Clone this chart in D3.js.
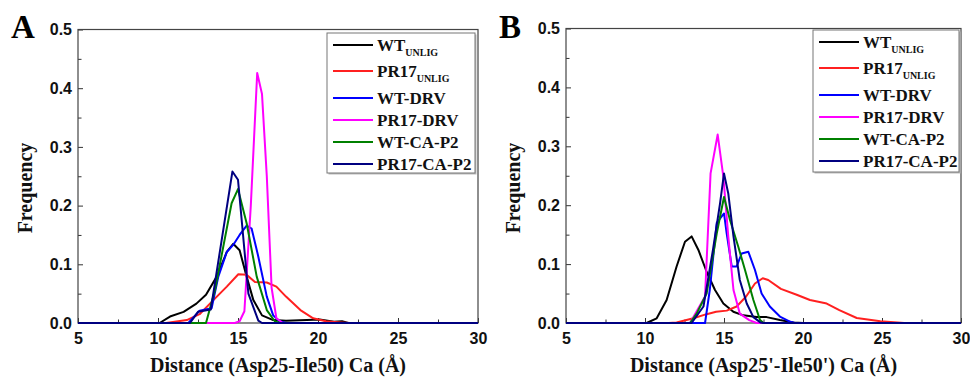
<!DOCTYPE html>
<html>
<head>
<meta charset="utf-8">
<script src="https://cdn.jsdelivr.net/npm/d3@7"></script>
<style>
  body { margin: 0; background: #fff; }
  svg { display: block; }
  .tick text { font-family: "Liberation Sans", Arial, sans-serif; font-weight: bold; font-size: 16px; }
</style>
</head>
<body>
<div class="canva"></div>
<script>
// legend names + colours
const seriesNames = ["WT", "PR17", "WT-DRV", "PR17-DRV", "WT-CA-P2", "PR17-CA-P2"];
const seriesSubs = ["UNLIG", "UNLIG", "", "", "", ""];
const seriesColors = ["#000000", "#ff2020", "#0000ff", "#ff00ff", "#008000", "#000080"];

const xTicks = [5, 10, 15, 20, 25, 30];
const yTicks = [0.0, 0.1, 0.2, 0.3, 0.4, 0.5];
const xMinor = [7.5, 12.5, 17.5, 22.5, 27.5];
const yMinor = [0.05, 0.15, 0.25, 0.35, 0.45];

// panel A : Asp25-Ile50 distance, [distance, frequency]
const aWtUnlig = [[5,0],[10.1,0],[10.75,0.011],[11.6,0.019],[12.4,0.033],[13.0,0.048],[13.67,0.079],[14.3,0.121],[14.7,0.135],[15.1,0.124],[15.54,0.079],[15.96,0.039],[16.5,0.013],[17.2,0.005],[18.0,0.004],[19.3,0.005],[20.1,0.006],[21.0,0.002],[21.5,0.003],[21.9,0],[30,0]];
const aPr17Unlig = [[5,0],[10.5,0],[11.8,0.005],[12.6,0.015],[13.46,0.039],[14.3,0.062],[15.02,0.083],[15.54,0.082],[16.06,0.07],[16.8,0.069],[17.4,0.062],[18.0,0.045],[18.9,0.022],[19.7,0.008],[20.5,0.003],[21.4,0.001],[22.0,0],[30,0]];
const aWtDrv = [[5,0],[11.9,0],[12.6,0.021],[13.35,0.025],[13.77,0.079],[14.3,0.121],[14.7,0.133],[15.1,0.15],[15.54,0.166],[15.85,0.161],[16.27,0.113],[16.8,0.045],[17.2,0.013],[17.6,0.003],[18.0,0],[30,0]];
const aPr17Drv = [[5,0],[14.8,0],[15.1,0.003],[15.4,0.02],[15.8,0.2],[16.2,0.426],[16.5,0.39],[16.8,0.25],[17.1,0.06],[17.4,0.008],[17.8,0],[30,0]];
const aWtCaP2 = [[5,0],[13.0,0],[13.56,0.056],[14.6,0.204],[15.0,0.228],[15.54,0.17],[16.17,0.079],[16.8,0.022],[17.3,0.003],[17.6,0],[30,0]];
const aPr17CaP2 = [[5,0],[12.0,0],[12.5,0.019],[13.3,0.023],[13.8,0.11],[14.65,0.258],[15.0,0.244],[15.65,0.05],[16.27,0.004],[16.5,0],[30,0]];

// panel B : Asp25'-Ile50' distance
const bWtUnlig = [[5,0],[10.1,0],[10.74,0.008],[11.37,0.039],[12.0,0.096],[12.53,0.138],[12.95,0.147],[13.38,0.124],[13.9,0.087],[14.43,0.056],[14.96,0.033],[15.59,0.019],[16.22,0.013],[17.07,0.01],[17.7,0.01],[18.54,0.005],[19.4,0.001],[20.0,0],[30,0]];
const bPr17Unlig = [[5,0],[11.5,0],[12.0,0.001],[13.06,0.008],[13.9,0.015],[14.5,0.019],[15.17,0.021],[15.8,0.028],[16.4,0.045],[16.96,0.067],[17.45,0.076],[17.8,0.073],[18.6,0.058],[19.6,0.048],[20.44,0.039],[21.5,0.033],[22.3,0.022],[23.4,0.0085],[24.9,0.003],[26.4,0],[30,0]];
const bWtDrv = [[5,0],[13.8,0],[14.1,0.056],[14.54,0.17],[15.0,0.186],[15.17,0.152],[15.49,0.096],[15.8,0.096],[16.12,0.118],[16.54,0.121],[16.96,0.09],[17.38,0.05],[17.9,0.028],[18.54,0.011],[19.2,0.002],[19.5,0],[30,0]];
const bPr17Drv = [[5,0],[12.85,0],[13.8,0.045],[14.15,0.254],[14.6,0.32],[14.96,0.248],[15.27,0.147],[15.6,0.056],[16.0,0.016],[16.6,0.005],[17.07,0],[30,0]];
const bWtCaP2 = [[5,0],[12.85,0],[13.27,0.016],[13.9,0.05],[14.54,0.152],[15.0,0.214],[15.38,0.175],[15.9,0.13],[16.33,0.09],[16.86,0.039],[17.28,0.005],[17.5,0],[30,0]];
const bPr17CaP2 = [[5,0],[12.95,0],[13.7,0.028],[14.3,0.124],[14.75,0.203],[15.0,0.254],[15.27,0.22],[15.6,0.147],[16.0,0.073],[16.44,0.033],[16.86,0.01],[17.3,0.001],[17.5,0],[30,0]];

const panels = [
  { letter: "A", series: [aWtUnlig, aPr17Unlig, aWtDrv, aPr17Drv, aWtCaP2, aPr17CaP2],
    xLabel: "Distance (Asp25-Ile50) Ca (Å)",
    box: { l: 78, r: 478, t: 29.5, b: 323 },
    legend: { x: 327, y: 33, w: 148, h: 140 } },
  { letter: "B", series: [bWtUnlig, bPr17Unlig, bWtDrv, bPr17Drv, bWtCaP2, bPr17CaP2],
    xLabel: "Distance (Asp25'-Ile50') Ca (Å)",
    box: { l: 566, r: 961, t: 28.5, b: 323 },
    legend: { x: 813, y: 30, w: 146, h: 142 } }
];

const legendRows = [12, 38, 65, 87, 109, 131];
const serif = "'Liberation Serif', 'Times New Roman', serif";

const svg = d3.select('.canva').append('svg')
    .attr('width', 970)
    .attr('height', 379);

svg.append('rect').attr('width', 970).attr('height', 379).attr('fill', '#fff');

panels.forEach(p => {
  const bx = p.box;
  const x = d3.scaleLinear().domain([5, 30]).range([bx.l, bx.r]);
  const y = d3.scaleLinear().domain([0, 0.5]).range([bx.b, bx.t]);
  const g = svg.append('g');

  // inner ticks, major then minor
  [[xTicks, -5], [xMinor, -3.5]].forEach(([vals, len]) => {
    g.append('g')
      .attr('transform', `translate(0,${bx.b})`)
      .call(d3.axisBottom(x).tickValues(vals).tickSize(len).tickFormat(''))
      .call(a => a.select('.domain').remove())
      .selectAll('line').attr('stroke', '#333').attr('stroke-width', 1);
  });
  [[yTicks, -5], [yMinor, -3.5]].forEach(([vals, len]) => {
    g.append('g')
      .attr('transform', `translate(${bx.l},0)`)
      .call(d3.axisLeft(y).tickValues(vals).tickSize(len).tickFormat(''))
      .call(a => a.select('.domain').remove())
      .selectAll('line').attr('stroke', '#333').attr('stroke-width', 1);
  });

  // tick labels
  g.append('g')
    .attr('transform', `translate(0,${bx.b})`)
    .call(d3.axisBottom(x).tickValues(xTicks).tickSize(0).tickPadding(10).tickFormat(d3.format('d')))
    .call(a => a.select('.domain').remove())
    .selectAll('text').attr('fill', '#111');
  g.append('g')
    .attr('transform', `translate(${bx.l},0)`)
    .call(d3.axisLeft(y).tickValues(yTicks).tickSize(0).tickPadding(6).tickFormat(d3.format('.1f')))
    .call(a => a.select('.domain').remove())
    .selectAll('text').attr('fill', '#111');

  // frame
  g.append('rect')
    .attr('x', bx.l).attr('y', bx.t)
    .attr('width', bx.r - bx.l).attr('height', bx.b - bx.t)
    .attr('fill', 'none').attr('stroke', '#444').attr('stroke-width', 1.2);

  // curves
  const line = d3.line().x(d => x(d[0])).y(d => y(d[1]));
  p.series.forEach((s, i) => {
    g.append('path')
      .datum(s)
      .attr('d', line)
      .attr('fill', 'none')
      .attr('stroke', seriesColors[i])
      .attr('stroke-width', 2)
      .attr('stroke-linejoin', 'round');
  });

  // legend
  const lg = p.legend;
  const leg = g.append('g').attr('transform', `translate(${lg.x},${lg.y})`);
  leg.append('rect').attr('x', 1.5).attr('y', 1.5).attr('width', lg.w).attr('height', lg.h)
    .attr('fill', '#bbb');
  leg.append('rect').attr('width', lg.w).attr('height', lg.h)
    .attr('fill', '#fff').attr('stroke', '#777').attr('stroke-width', 1);
  seriesNames.forEach((name, i) => {
    const ry = legendRows[i];
    leg.append('line')
      .attr('x1', 6).attr('x2', 46).attr('y1', ry).attr('y2', ry)
      .attr('stroke', seriesColors[i]).attr('stroke-width', 2.2);
    const t = leg.append('text')
      .attr('x', 50).attr('y', ry + 6)
      .attr('font-family', serif).attr('font-weight', 'bold').attr('font-size', 17)
      .attr('fill', '#111')
      .text(name);
    if (seriesSubs[i]) {
      t.append('tspan').attr('dy', 5).attr('font-size', 10).text(seriesSubs[i]);
    }
  });

  // axis titles
  g.append('text')
    .attr('x', (bx.l + bx.r) / 2).attr('y', 372)
    .attr('text-anchor', 'middle')
    .attr('font-family', serif).attr('font-weight', 'bold').attr('font-size', 20)
    .attr('fill', '#111')
    .text(p.xLabel);
  g.append('text')
    .attr('transform', `translate(${bx.l - 46},188) rotate(-90)`)
    .attr('text-anchor', 'middle')
    .attr('font-family', serif).attr('font-weight', 'bold').attr('font-size', 20)
    .attr('fill', '#111')
    .text('Frequency');

  // panel letter
  g.append('text')
    .attr('x', bx.l - 67).attr('y', 38)
    .attr('font-family', serif).attr('font-weight', 'bold').attr('font-size', 33)
    .attr('fill', '#000')
    .text(p.letter);
});
</script>
</body>
</html>
